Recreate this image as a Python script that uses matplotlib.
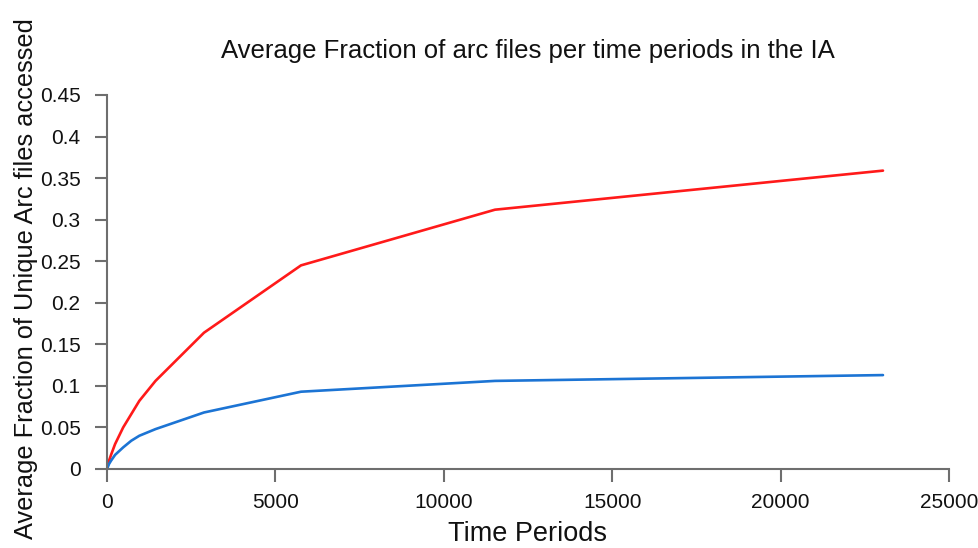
import matplotlib
matplotlib.use('Agg')
import matplotlib.pyplot as plt

# ---- data ----
time_periods = [0, 60, 120, 240, 480, 720, 960, 1440, 2880, 5760, 11520, 23040]
frac_red = [0, 0.010, 0.017, 0.030, 0.050, 0.066, 0.082, 0.106, 0.164, 0.245, 0.312, 0.359]
frac_blue = [0, 0.006, 0.010, 0.017, 0.026, 0.034, 0.040, 0.048, 0.068, 0.093, 0.106, 0.113]

x_ticks = [0, 5000, 10000, 15000, 20000, 25000]
y_ticks = [0, 0.05, 0.1, 0.15, 0.2, 0.25, 0.3, 0.35, 0.4, 0.45]
y_labels = ['0', '0.05', '0.1', '0.15', '0.2', '0.25', '0.3', '0.35', '0.4', '0.45']

plt.rcParams['font.family'] = ['Liberation Sans', 'DejaVu Sans']
AXIS_GREY = '#6e6e6e'

fig = plt.figure(figsize=(9.79, 5.48), dpi=100)
ax = fig.add_axes([107 / 979, 79 / 548, 842 / 979, 374 / 548])

ax.plot(time_periods, frac_red, color='#ff1a1a', lw=1.9, solid_capstyle='round')
ax.plot(time_periods, frac_blue, color='#1c74d4', lw=1.9, solid_capstyle='round')

ax.set_xlim(0, 25000)
ax.set_ylim(0, 0.45)
ax.set_xticks(x_ticks)
ax.set_xticklabels([str(t) for t in x_ticks])
ax.set_yticks(y_ticks)
ax.set_yticklabels(y_labels)

for side in ['top', 'right']:
    ax.spines[side].set_visible(False)
for side in ['left', 'bottom']:
    ax.spines[side].set_color(AXIS_GREY)
    ax.spines[side].set_linewidth(1.5)
ax.tick_params(axis='both', colors=AXIS_GREY, width=1.5, length=9,
               labelsize=15, labelcolor='#111111')
ax.tick_params(axis='x', pad=8)
ax.tick_params(axis='y', pad=10)

ax.set_xlabel('Time Periods', fontsize=19.5, labelpad=7, color='#111111')
# slightly smaller than the reference so the rotated label stays inside the figure
ax.set_ylabel('Average Fraction of Unique Arc files accessed', fontsize=18.3,
              color='#111111')
ax.yaxis.set_label_coords(-0.082, 0.51)

fig.text(528 / 979, 1 - 51 / 548,
         'Average Fraction of arc files per time periods in the IA',
         ha='center', va='center', fontsize=18.5, color='#111111')

fig.savefig('out.png', dpi=100)
